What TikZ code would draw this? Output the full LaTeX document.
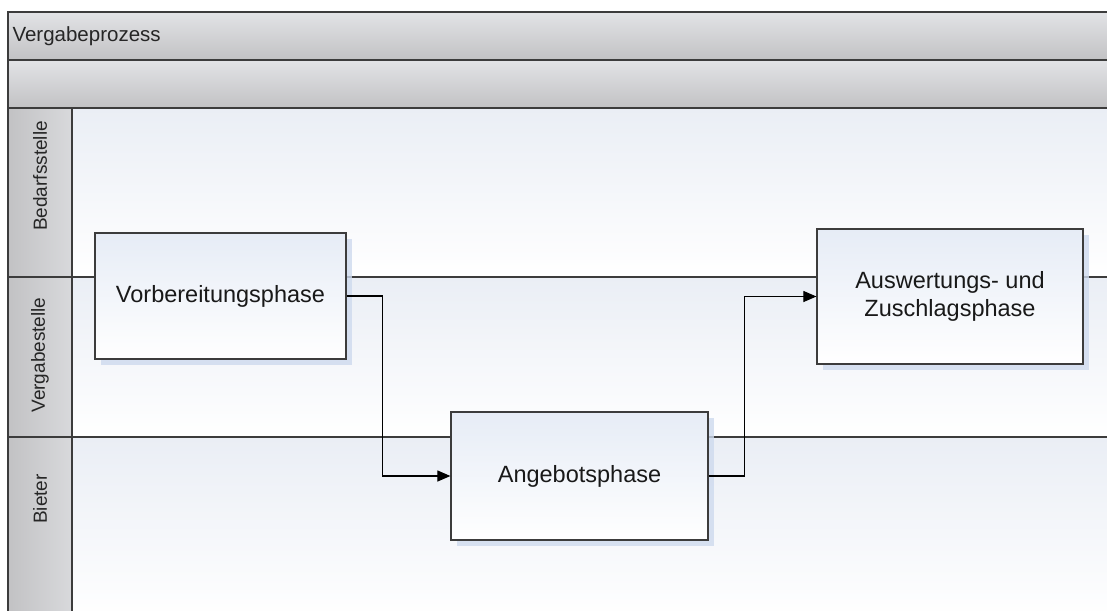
\documentclass[tikz,border=0pt]{standalone}
\usepackage{fontspec}
\setmainfont{Liberation Sans}
\usetikzlibrary{arrows.meta,shadows,positioning}

\definecolor{bandgray}{RGB}{194,194,196}
\definecolor{bandlight}{RGB}{226,227,230}
\definecolor{lanetint}{RGB}{234,238,245}
\definecolor{boxtint}{RGB}{230,236,246}
\definecolor{shadowblue}{RGB}{206,218,238}
\definecolor{framegray}{RGB}{60,60,60}

\tikzset{
  band/.style={draw=framegray, line width=1.6pt, top color=bandlight, bottom color=bandgray},
  lanehead/.style={draw=framegray, line width=1.2pt, left color=bandgray, right color=bandlight!70!bandgray},
  lane/.style={draw=framegray, line width=1.2pt, top color=lanetint, bottom color=white},
  lanelabel/.style={rotate=90, font=\fontsize{19}{22}\selectfont, text=black!85},
  phase/.style={draw=framegray, line width=1.2pt, top color=boxtint, bottom color=white,
    align=center, font=\fontsize{23.5}{28}\selectfont, text=black!90,
    drop shadow={shadow xshift=6pt, shadow yshift=-6pt, fill=shadowblue, opacity=0.8}},
  flow/.style={-{Triangle[length=13pt,width=11pt]}, line width=1.1pt}
}

\begin{document}
\begin{tikzpicture}[x=1pt,y=-1pt]
  \useasboundingbox (0,0) rectangle (1107,610);
  % Kopfzeilen
  \path[band] (8,12) rectangle (1120,60);
  \path[band] (8,60) rectangle (1120,108);
  \node[anchor=west, font=\fontsize{20.5}{24}\selectfont, text=black!85] (title) at (9,36) {Vergabeprozess};
  % Bahnen
  \foreach \lname/\ltop/\lbot/\ly in {Bedarfsstelle/108/277/176, Vergabestelle/277/437/355, Bieter/437/620/499}
  {
    \path[lane] (72,\ltop) rectangle (1120,\lbot);
    \path[lanehead] (8,\ltop) rectangle (72,\lbot);
    \node[lanelabel] (l-\lname) at (40,\ly) {\lname};
  }
  % Phasen
  \node[phase, minimum width=251pt, minimum height=126pt] (vorb) at (220.5,296) {Vorbereitungsphase};
  \node[phase, minimum width=257pt, minimum height=128pt] (angebot) at (579.5,476) {Angebotsphase};
  \node[phase, minimum width=266pt, minimum height=135pt] (ausw) at (950,296.5) {Auswertungs- und\\Zuschlagsphase};
  % Fluss
  \draw[flow] (vorb.east) -- ++(36,0) |- (angebot.west);
  \draw[flow] (angebot.east) -- ++(36,0) |- (ausw.west);
\end{tikzpicture}
\end{document}
